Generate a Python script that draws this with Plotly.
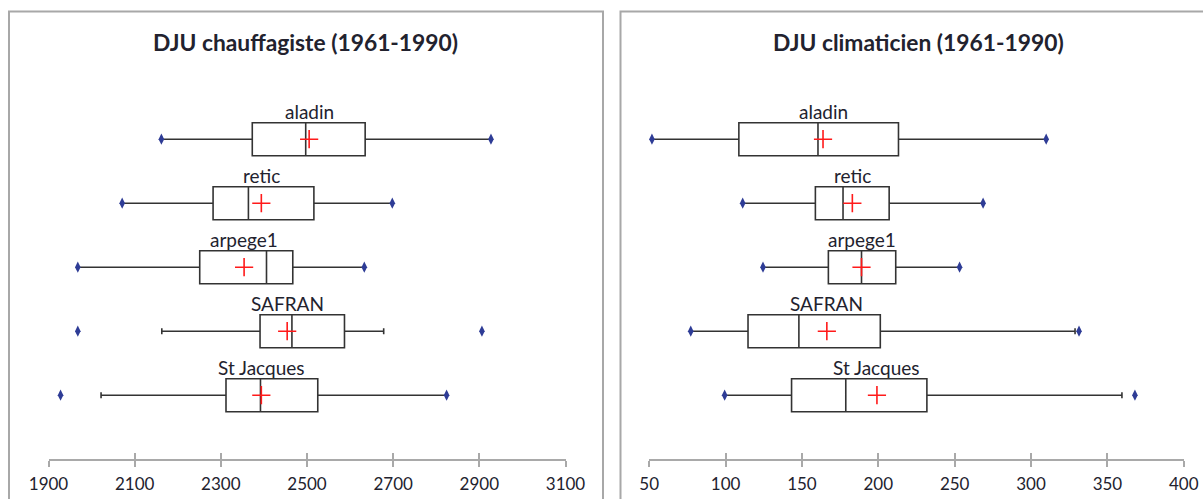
import plotly.graph_objects as go

# ---------------- data ----------------
categories = ["aladin", "retic", "arpege1", "SAFRAN", "St Jacques"]

heat_title = "DJU chauffagiste (1961-1990)"
heat_q1 = [2373, 2282, 2251, 2391, 2312]
heat_median = [2497, 2364, 2406, 2465, 2392]
heat_q3 = [2635, 2516, 2467, 2587, 2525]
heat_mean = [2505, 2394, 2354, 2454, 2394]
heat_lowfence = [2162, 2071, 1968, 2163, 2022]
heat_upfence = [2927, 2698, 2633, 2678, 2824]
heat_min = [2162, 2071, 1968, 1968, 1928]
heat_max = [2927, 2698, 2633, 2906, 2824]
heat_ticks = [1900, 2100, 2300, 2500, 2700, 2900, 3100]

cool_title = "DJU climaticien (1961-1990)"
cool_q1 = [108.7, 158.8, 167.3, 114.7, 143.2]
cool_median = [160.5, 176.9, 189.0, 148.0, 178.7]
cool_q3 = [213.2, 207.1, 211.4, 201.3, 231.8]
cool_mean = [163.8, 183.0, 189.0, 166.3, 199.1]
cool_lowfence = [51.8, 111.2, 124.5, 77.2, 99.4]
cool_upfence = [309.9, 268.6, 253.2, 328.8, 359.5]
cool_min = [51.8, 111.2, 124.5, 77.2, 99.4]
cool_max = [309.9, 268.6, 253.2, 331.4, 368.0]
cool_ticks = [50, 100, 150, 200, 250, 300, 350, 400]

# ---------------- styling ----------------
W, H = 1203, 499
FONT = "Lato"
TXT = "#22222e"
BOXLINE = "#333333"
AXGRAY = "#a9a9a9"
DOT = "#2e3c96"
RED = "#ff1a1a"


def px(x):
    return x / W


def py(y):
    return 1 - y / H


fig = go.Figure()

panels = [
    dict(xa="x", ya="y", xo="x3", q1=heat_q1, med=heat_median, q3=heat_q3, mean=heat_mean,
         lf=heat_lowfence, uf=heat_upfence, mn=heat_min, mx=heat_max),
    dict(xa="x2", ya="y2", xo="x4", q1=cool_q1, med=cool_median, q3=cool_q3, mean=cool_mean,
         lf=cool_lowfence, uf=cool_upfence, mn=cool_min, mx=cool_max),
]

for p in panels:
    fig.add_trace(go.Box(
        orientation="h", y=categories, q1=p["q1"], median=p["med"], q3=p["q3"],
        lowerfence=p["lf"], upperfence=p["uf"], boxpoints=False,
        width=0.516, whiskerwidth=0.18,
        fillcolor="white", line=dict(color=BOXLINE, width=1.6),
        xaxis=p["xa"], yaxis=p["ya"], showlegend=False, hoverinfo="skip",
    ))
    fig.add_trace(go.Scatter(
        x=p["mn"] + p["mx"], y=categories + categories, mode="markers",
        marker=dict(symbol="diamond-tall", size=8, color=DOT, line=dict(width=0)),
        xaxis=p["xa"], yaxis=p["ya"], showlegend=False, cliponaxis=False, hoverinfo="skip",
    ))
    fig.add_trace(go.Scatter(
        x=p["mean"], y=categories, mode="markers",
        marker=dict(symbol="cross-thin", size=13, line=dict(width=1.6, color=RED)),
        xaxis=p["xa"], yaxis=p["ya"], showlegend=False, cliponaxis=False, hoverinfo="skip",
    ))
    # empty trace so the overlay axis (upper tick halves) exists
    fig.add_trace(go.Scatter(x=[], y=[], xaxis=p["xo"], yaxis=p["ya"], showlegend=False))
    for c, m in zip(categories, p["mean"]):
        fig.add_annotation(x=m, y=c, xref=p["xa"], yref=p["ya"], text=c, showarrow=False,
                           yanchor="bottom", xanchor="center", yshift=14,
                           font=dict(family=FONT, size=19, color=TXT))

ydom = [py(459), py(100)]
yrange = [-0.997, 4.6125]
yaxis_common = dict(domain=ydom, range=yrange, visible=False, type="category",
                    categoryorder="array", categoryarray=list(reversed(categories)),
                    fixedrange=True, automargin=False)

xaxis_common = dict(showgrid=False, zeroline=False, showline=True, linecolor=AXGRAY,
                    linewidth=2, ticks="outside", ticklen=6, tickwidth=1.5, tickcolor=AXGRAY,
                    tickfont=dict(family=FONT, size=17, color=TXT), ticklabelstandoff=3,
                    fixedrange=True, automargin=False)
over_common = dict(showgrid=False, zeroline=False, showline=False, ticks="inside",
                   ticklen=6, tickwidth=1.5, tickcolor=AXGRAY, showticklabels=False,
                   fixedrange=True, automargin=False)

xd1 = [px(48.5), px(565.5)]
xd2 = [px(649.2), px(1183.8)]

fig.update_layout(
    width=W, height=H, margin=dict(l=0, r=0, t=0, b=0, pad=0, autoexpand=False),
    paper_bgcolor="white", plot_bgcolor="rgba(0,0,0,0)",
    xaxis=dict(domain=xd1, range=[1900, 3100], tickvals=heat_ticks, anchor="y", **xaxis_common),
    xaxis3=dict(domain=xd1, range=[1900, 3100], tickvals=heat_ticks, anchor="y",
                overlaying="x", side="bottom", **over_common),
    yaxis=dict(anchor="x", **yaxis_common),
    xaxis2=dict(domain=xd2, range=[50, 400], tickvals=cool_ticks, anchor="y2", **xaxis_common),
    xaxis4=dict(domain=xd2, range=[50, 400], tickvals=cool_ticks, anchor="y2",
                overlaying="x2", side="bottom", **over_common),
    yaxis2=dict(anchor="x2", **yaxis_common),
    shapes=[
        dict(type="rect", xref="paper", yref="paper", x0=px(9), x1=px(603), y0=py(560), y1=py(11.5),
             line=dict(color="#a8a8a8", width=2), fillcolor="rgba(0,0,0,0)", layer="below"),
        dict(type="rect", xref="paper", yref="paper", x0=px(620.5), x1=px(1216), y0=py(560), y1=py(11.5),
             line=dict(color="#a8a8a8", width=2), fillcolor="rgba(0,0,0,0)", layer="below"),
    ],
    showlegend=False,
)

fig.add_annotation(x=px(305.5), y=py(42), xref="paper", yref="paper", text="<b>%s</b>" % heat_title,
                   showarrow=False, xanchor="center", yanchor="middle",
                   font=dict(family=FONT, size=22.8, color=TXT))
fig.add_annotation(x=px(918), y=py(42), xref="paper", yref="paper", text="<b>%s</b>" % cool_title,
                   showarrow=False, xanchor="center", yanchor="middle",
                   font=dict(family=FONT, size=22.8, color=TXT))

fig.write_html("out.html", config=dict(displayModeBar=False),
               post_script="document.body.style.margin='0px';document.body.style.overflow='hidden';")
